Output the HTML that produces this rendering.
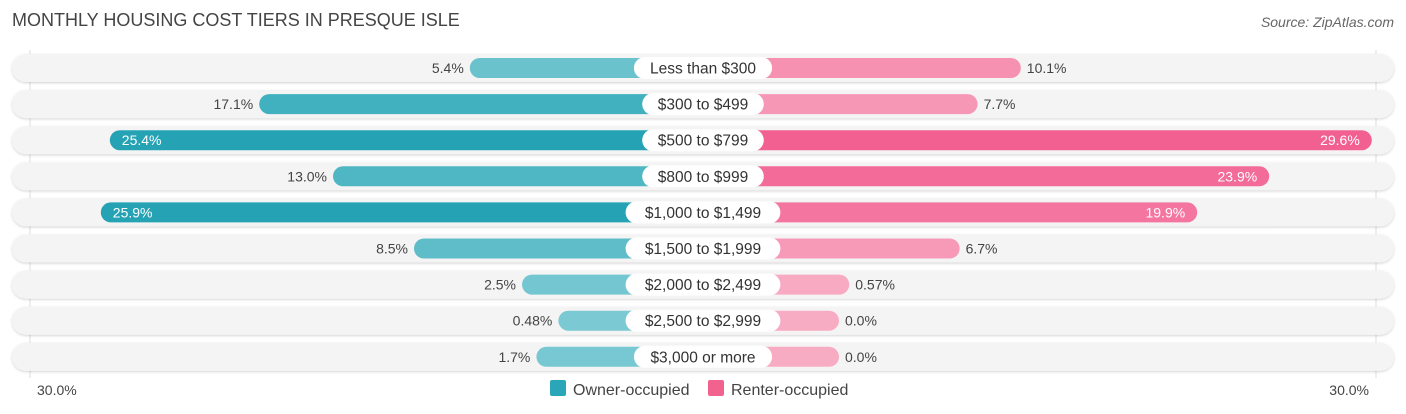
<!DOCTYPE html>
<html><head><meta charset="utf-8"><style>
body{margin:0;width:1406px;height:414px;background:#fff;font-family:"Liberation Sans",sans-serif;overflow:hidden;position:relative}
#title{position:absolute;left:12px;top:10px;font-size:18px;color:#444}
#src{position:absolute;right:12px;top:14px;font-size:14px;color:#666;font-style:italic}
svg{position:absolute;left:0;top:0}
</style></head><body>
<div id="title">MONTHLY HOUSING COST TIERS IN PRESQUE ISLE</div>
<div id="src">Source: ZipAtlas.com</div>
<svg id="c" width="1406" height="414"></svg>
<script>
const categories=["Less than $300","$300 to $499","$500 to $799","$800 to $999","$1,000 to $1,499","$1,500 to $1,999","$2,000 to $2,499","$2,500 to $2,999","$3,000 or more"];
const owner=[5.4,17.1,25.4,13.0,25.9,8.5,2.5,0.48,1.7];
const renter=[10.1,7.7,29.6,23.9,19.9,6.7,0.57,0.0,0.0];
const ownerLabels=["5.4%","17.1%","25.4%","13.0%","25.9%","8.5%","2.5%","0.48%","1.7%"];
const renterLabels=["10.1%","7.7%","29.6%","23.9%","19.9%","6.7%","0.57%","0.0%","0.0%"];
const axisLabels=["30.0%","30.0%"];
const NS="http://www.w3.org/2000/svg",svg=document.getElementById('c');
const cx=703,off=136,s=18,y0=68,dy=36.1;
function mk(t,a,p){const e=document.createElementNS(NS,t);for(const k in a)e.setAttribute(k,a[k]);(p||svg).appendChild(e);return e;}
function mix(a,b,t){return 'rgb('+a.map((v,i)=>Math.round(v+(b[i]-v)*t)).join(',')+')';}
const defs=mk('defs',{});
const f=mk('filter',{id:'sh',x:'-5%',y:'-30%',width:'110%',height:'160%'},defs);
mk('feDropShadow',{dx:0,dy:1,stdDeviation:1.2,'flood-color':'#000','flood-opacity':0.18},f);
mk('line',{x1:30,y1:50,x2:30,y2:378,stroke:'#ddd','stroke-width':1});
mk('line',{x1:1376,y1:50,x2:1376,y2:378,stroke:'#ddd','stroke-width':1});
categories.forEach((c,i)=>{
  const y=y0+i*dy;
  const tr=mk('rect',{x:12,y:y-14,width:1382,height:28,rx:14,fill:'#f4f4f4',filter:'url(#sh)'});
  
  const ow=off+owner[i]*s, rw=off+renter[i]*s;
  const ob=mk('rect',{x:cx-ow,y:y-10,width:ow,height:20,rx:10,fill:mix([125,203,212],[37,163,181],Math.min(owner[i]/25,1))});
  
  const rb=mk('rect',{x:cx,y:y-10,width:rw,height:20,rx:10,fill:mix([248,172,196],[242,96,145],Math.min(renter[i]/28,1))});
  
  const tw=c.length*8.3+22;
  const pill=mk('rect',{x:cx-tw/2,y:y-11,width:tw,height:22,rx:11,fill:'#fff'});
  
  const lt=mk('text',{x:cx,y:y+5.5,'text-anchor':'middle','font-size':15.5,fill:'#333'});lt.textContent=c;
  
  const oin=owner[i]>18;
  const ot=mk('text',{x:oin?cx-ow+12:cx-ow-6,y:y+5,'text-anchor':oin?'start':'end','font-size':14,fill:oin?'#fff':'#444'});ot.textContent=ownerLabels[i];
  
  const rin=renter[i]>18;
  const rt=mk('text',{x:rin?cx+rw-12:cx+rw+6,y:y+5,'text-anchor':rin?'end':'start','font-size':14,fill:rin?'#fff':'#444'});rt.textContent=renterLabels[i];
  
});
const a1=mk('text',{x:37,y:395,'font-size':14,fill:'#444'});a1.textContent=axisLabels[0];

const a2=mk('text',{x:1369,y:395,'text-anchor':'end','font-size':14,fill:'#444'});a2.textContent=axisLabels[1];

const l1=mk('rect',{x:550,y:380,width:16,height:16,rx:2,fill:'#2aa6b8'});
const t1=mk('text',{x:573,y:395,'font-size':16,fill:'#444'});t1.textContent='Owner-occupied';
const l2=mk('rect',{x:708,y:380,width:16,height:16,rx:2,fill:'#f2628f'});
const t2=mk('text',{x:731,y:395,'font-size':16,fill:'#444'});t2.textContent='Renter-occupied';
</script>
</body></html>
